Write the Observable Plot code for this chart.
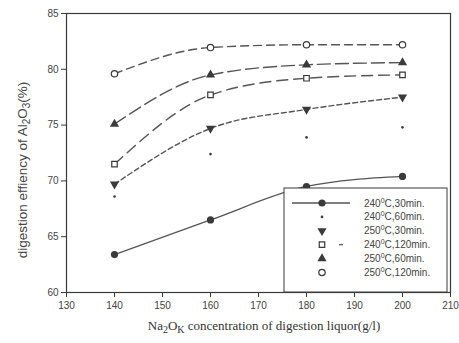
<!DOCTYPE html>
<html><head><meta charset="utf-8">
<script src="https://cdn.jsdelivr.net/npm/d3@7"></script>
<script src="https://cdn.jsdelivr.net/npm/@observablehq/plot@0.6"></script>
<style>body{margin:0;background:#fff}</style>
</head><body><div id="chart"></div>
<script>
const conc = [140, 160, 180, 200];
const s240_30 = [63.4, 66.5, 69.5, 70.4];
const s240_60 = [68.6, 72.4, 73.9, 74.8];
const s250_30 = [69.7, 74.7, 76.4, 77.5];
const s240_120 = [71.5, 77.7, 79.2, 79.5];
const s250_60 = [75.1, 79.5, 80.4, 80.6];
const s250_120 = [79.6, 81.95, 82.2, 82.2];
const temps = ["240", "240", "250", "240", "250", "250"];
const times = ["30min.", "60min.", "30min.", "120min.", "60min.", "120min."];
const xTicks = [130, 140, 150, 160, 170, 180, 190, 200, 210];
const yTicks = [60, 65, 70, 75, 80, 85];

const rows = v => conc.map((x, i) => ({x, y: v[i]}));
const ink = "#3a3a3a";
const lineC = "#555";

const plot = Plot.plot({
  width: 459, height: 343,
  marginLeft: 66, marginRight: 9, marginTop: 13, marginBottom: 51,
  style: {background: "#fff", fontFamily: "Liberation Sans, Arial, sans-serif", fontSize: "10px", color: "#444"},
  x: {domain: [130, 210]},
  y: {domain: [60, 85]},
  marks: [
    Plot.axisX({ticks: xTicks, tickSize: 5, label: null, tickPadding: 4, stroke: ink}),
    Plot.axisY({ticks: yTicks, tickSize: 5, label: null, tickPadding: 3, stroke: ink}),
    Plot.frame({stroke: ink, strokeWidth: 1.2}),
    Plot.line(rows(s240_30), {x: "x", y: "y", curve: "monotone-x", stroke: lineC, strokeWidth: 1.3}),
    Plot.line(rows(s250_30), {x: "x", y: "y", curve: "monotone-x", stroke: lineC, strokeWidth: 1.4, strokeDasharray: "5,3"}),
    Plot.line(rows(s240_120), {x: "x", y: "y", curve: "monotone-x", stroke: lineC, strokeWidth: 1.4, strokeDasharray: "11,6"}),
    Plot.line(rows(s250_60), {x: "x", y: "y", curve: "monotone-x", stroke: lineC, strokeWidth: 1.4, strokeDasharray: "13,5"}),
    Plot.line(rows(s250_120), {x: "x", y: "y", curve: "monotone-x", stroke: lineC, strokeWidth: 1.4, strokeDasharray: "8,5"}),
    Plot.dot(rows(s240_30), {x: "x", y: "y", r: 3.6, fill: ink, symbol: "circle"}),
    Plot.dot(rows(s240_60), {x: "x", y: "y", r: 1.3, fill: ink, symbol: "circle"}),
    Plot.dot(rows(s250_30), {x: "x", y: "y", r: 3.4, fill: ink, symbol: "triangle", rotate: 180}),
    Plot.dot(rows(s240_120), {x: "x", y: "y", r: 3.1, fill: "#fff", stroke: ink, strokeWidth: 1.2, symbol: "square"}),
    Plot.dot(rows(s250_60), {x: "x", y: "y", r: 3.4, fill: ink, symbol: "triangle"}),
    Plot.dot(rows(s250_120), {x: "x", y: "y", r: 3.2, fill: "#fff", stroke: ink, strokeWidth: 1.2, symbol: "circle"})
  ]
});
document.getElementById("chart").appendChild(plot);

const svg = d3.select(plot);
// Y label
const yl = svg.append("text")
  .attr("transform", "translate(27,170) rotate(-90)")
  .attr("text-anchor", "middle")
  .attr("font-family", "Liberation Sans, Arial, sans-serif")
  .attr("font-size", 13.5).attr("fill", "#444");
yl.append("tspan").text("digestion effiency of Al");
yl.append("tspan").attr("font-size", 10).attr("dy", 3).text("2");
yl.append("tspan").attr("dy", -3).text("O");
yl.append("tspan").attr("font-size", 10).attr("dy", 3).text("3");
yl.append("tspan").attr("dy", -3).text("(%)");
// X label
const xl = svg.append("text")
  .attr("x", 264).attr("y", 330)
  .attr("text-anchor", "middle")
  .attr("font-family", "Liberation Serif, Times New Roman, serif")
  .attr("font-size", 13).attr("fill", "#333");
xl.append("tspan").text("Na");
xl.append("tspan").attr("font-size", 10).attr("dy", 3).text("2");
xl.append("tspan").attr("dy", -3).text("O");
xl.append("tspan").attr("font-size", 10).attr("dy", 3).text("K");
xl.append("tspan").attr("dy", -3).text(" concentration of digestion liquor(g/l)");

// Legend
const lg = svg.append("g");
lg.append("rect").attr("x", 284).attr("y", 188).attr("width", 163).attr("height", 104)
  .attr("fill", "#fff").attr("stroke", ink).attr("stroke-width", 1);
const rowY = i => 203 + i * 13.9;
const sx = 322;
lg.append("line").attr("x1", 292).attr("x2", 350).attr("y1", rowY(0)).attr("y2", rowY(0)).attr("stroke", lineC).attr("stroke-width", 1.3);
const sym = [
  {t: d3.symbolCircle, r: 3.6, fill: ink, stroke: "none", rot: 0},
  {t: d3.symbolCircle, r: 1.3, fill: ink, stroke: "none", rot: 0},
  {t: d3.symbolTriangle, r: 3.4, fill: ink, stroke: "none", rot: 180},
  {t: d3.symbolSquare, r: 3.1, fill: "#fff", stroke: ink, rot: 0},
  {t: d3.symbolTriangle, r: 3.4, fill: ink, stroke: "none", rot: 0},
  {t: d3.symbolCircle, r: 3.2, fill: "#fff", stroke: ink, rot: 0}
];
sym.forEach((s, i) => {
  lg.append("path")
    .attr("d", d3.symbol(s.t, Math.PI * s.r * s.r)())
    .attr("transform", `translate(${sx},${rowY(i)}) rotate(${s.rot})`)
    .attr("fill", s.fill).attr("stroke", s.stroke).attr("stroke-width", 1.2);
  const t = lg.append("text").attr("x", 364).attr("y", rowY(i) + 3.5)
    .attr("text-anchor", "start")
    .attr("font-family", "Liberation Sans, Arial, sans-serif")
    .attr("font-size", 10).attr("fill", "#444");
  t.append("tspan").text(temps[i]);
  t.append("tspan").attr("font-size", 7).attr("dy", -4).text("0");
  t.append("tspan").attr("dy", 4).text("C," + times[i]);
});
lg.append("line").attr("x1", 339).attr("x2", 343).attr("y1", rowY(3)).attr("y2", rowY(3)).attr("stroke", lineC).attr("stroke-width", 1.2);
</script></body></html>
